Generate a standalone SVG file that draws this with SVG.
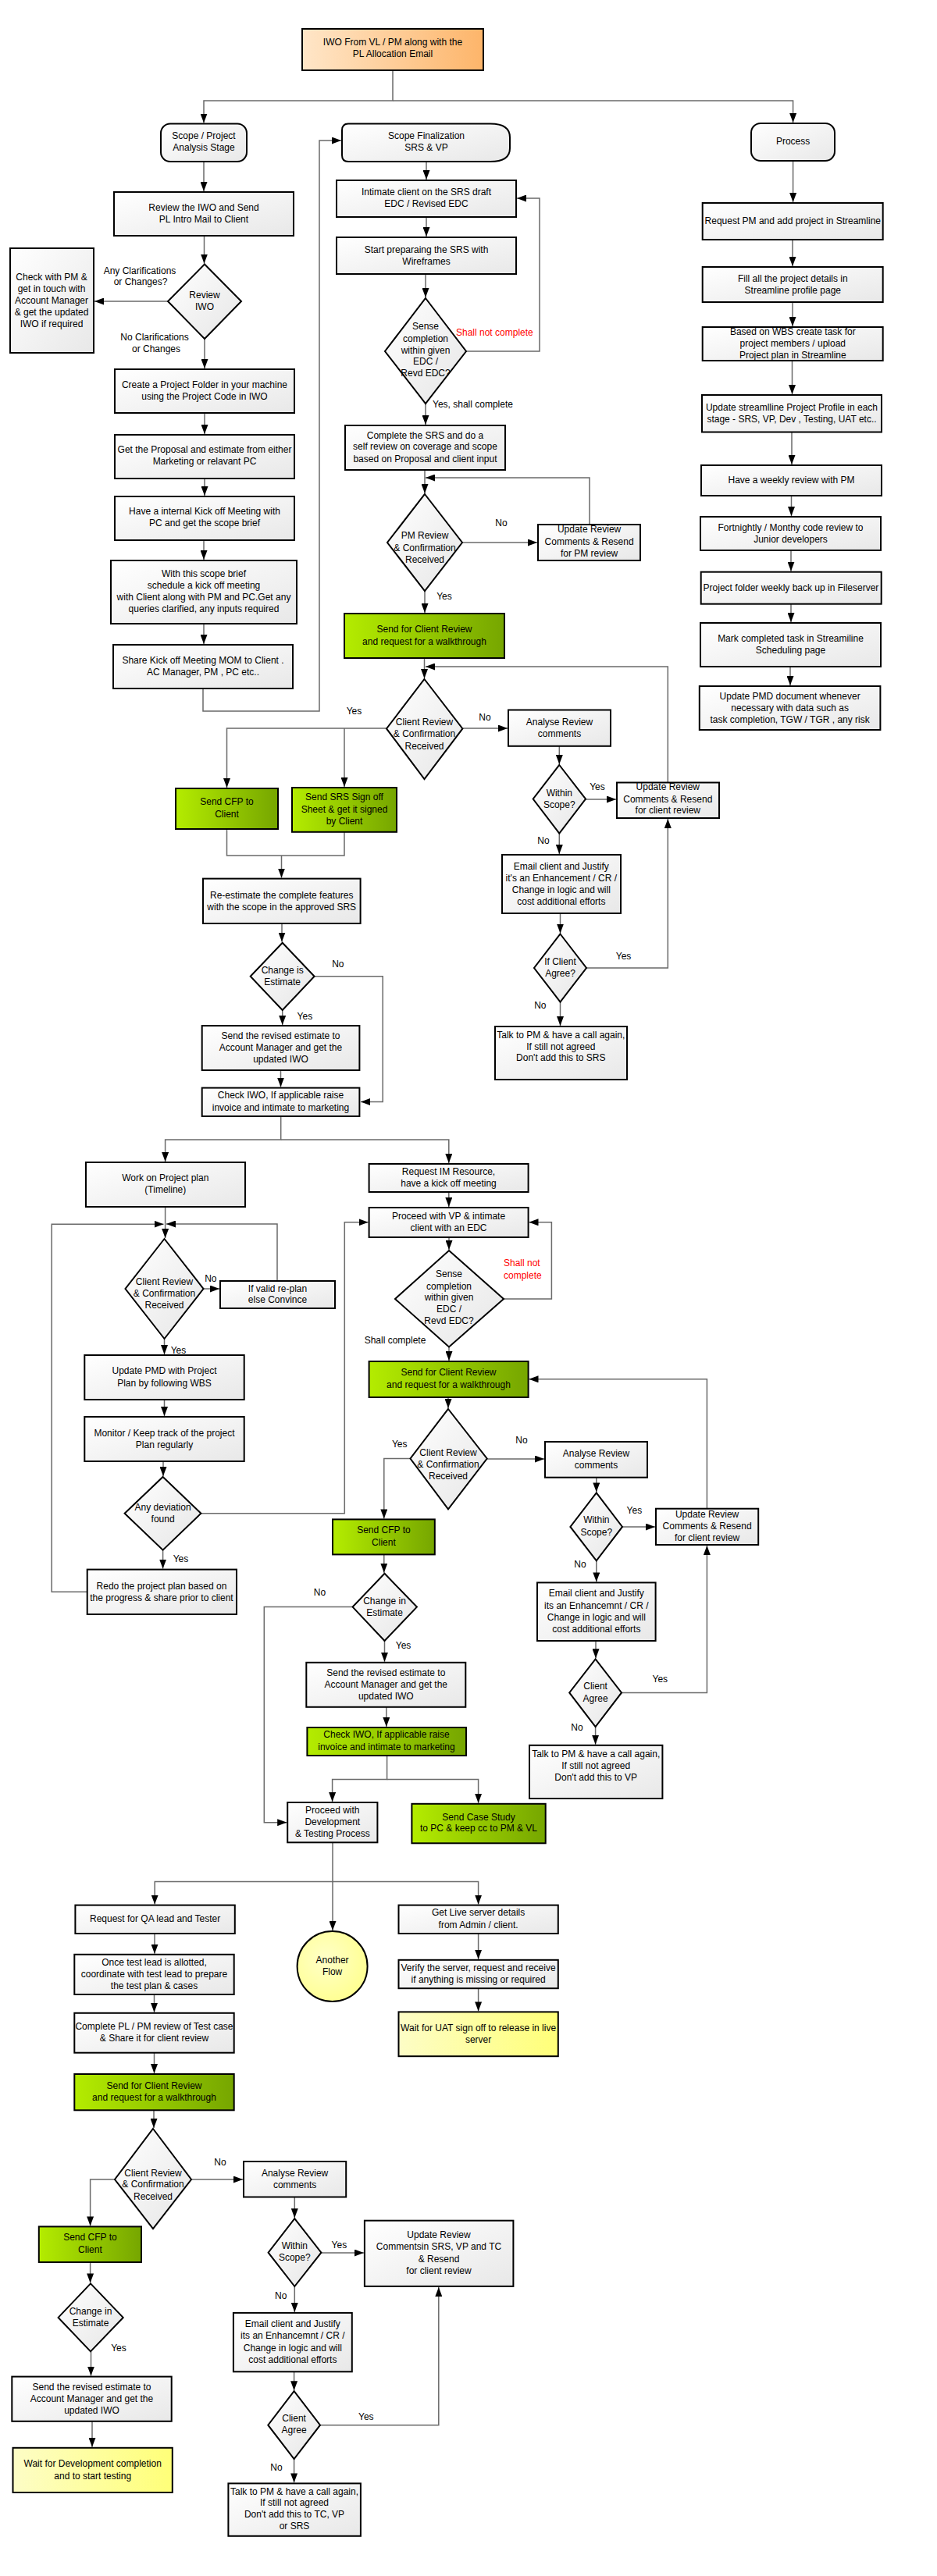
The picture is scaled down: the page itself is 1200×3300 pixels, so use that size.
<svg xmlns="http://www.w3.org/2000/svg" width="1200" height="3300" viewBox="0 0 1200 3300">
<defs>
<style>
text{font-family:"Liberation Sans",Arial,sans-serif;font-size:12px;fill:#000;text-anchor:middle}
.b{fill:url(#gg);stroke:#000;stroke-width:2}
.d{fill:url(#gd);stroke:#000;stroke-width:2}
.g{fill:url(#gr);stroke:#000;stroke-width:2}
.y{fill:url(#gy);stroke:#000;stroke-width:2}
.o{fill:url(#go);stroke:#000;stroke-width:2}
.c{fill:none;stroke:#6a6a6a;stroke-width:1.5}
.a{marker-end:url(#ar)}
.red{fill:#ff0000;text-anchor:start}
.st{text-anchor:start}
</style>
<linearGradient id="gg" x1="0" y1="0" x2="1" y2="1"><stop offset="0" stop-color="#ffffff"/><stop offset="1" stop-color="#e8e8e8"/></linearGradient>
<linearGradient id="gd" x1="0" y1="0" x2="1" y2="1"><stop offset="0" stop-color="#ffffff"/><stop offset="1" stop-color="#e6e6e6"/></linearGradient>
<linearGradient id="gr" x1="0" y1="0" x2="1" y2="0"><stop offset="0" stop-color="#b4ec00"/><stop offset="1" stop-color="#76a600"/></linearGradient>
<linearGradient id="gy" x1="0" y1="0" x2="1" y2="0"><stop offset="0" stop-color="#fdfdc6"/><stop offset="1" stop-color="#ffff78"/></linearGradient>
<linearGradient id="go" x1="0" y1="0" x2="1" y2="0"><stop offset="0" stop-color="#ffe6c8"/><stop offset="1" stop-color="#fdb56a"/></linearGradient>
<radialGradient id="gc" cx="0.4" cy="0.4" r="0.7"><stop offset="0" stop-color="#ffffc8"/><stop offset="1" stop-color="#ffff8c"/></radialGradient>
<marker id="ar" markerUnits="userSpaceOnUse" markerWidth="12" markerHeight="9" refX="12" refY="4.5" orient="auto"><path d="M0,0 L12,4.5 L0,9 z" fill="#000"/></marker>
</defs>
<rect width="1200" height="3300" fill="#fff"/>

<g id="connectors">
<path class="c a" d="M503,90 V129 H261 V157.5"/>
<path class="c a" d="M503,129 H1015.6 V157"/>
<path class="c a" d="M261,207 V245"/>
<path class="c a" d="M261.5,302 V337.5"/>
<path class="c a" d="M215,386 H121"/>
<path class="c a" d="M262,434 V472"/>
<path class="c a" d="M262,529 V556"/>
<path class="c a" d="M262,613 V635"/>
<path class="c a" d="M261,692 V717"/>
<path class="c a" d="M261,799 V825"/>
<path class="c a" d="M260,882 V911 H409 V180 H437"/>
<path class="c a" d="M546,207 V230"/>
<path class="c a" d="M546,278 V303"/>
<path class="c a" d="M545,351 V381"/>
<path class="c a" d="M597,450 H691 V254 H662"/>
<path class="c a" d="M545,517 V544"/>
<path class="c a" d="M544,602 V632"/>
<path class="c a" d="M592,695 H688"/>
<path class="c a" d="M755,672 V612 H545"/>
<path class="c a" d="M544,757 V785"/>
<path class="c a" d="M543.5,843 V869"/>
<path class="c a" d="M495,933 H290.5 V1009"/>
<path class="c a" d="M441,933 V1008"/>
<path class="c a" d="M592.4,933 H650"/>
<path class="c a" d="M716.3,956 V979"/>
<path class="c a" d="M750,1024 H789"/>
<path class="c a" d="M855.3,1002.5 V854 H545"/>
<path class="c a" d="M716.3,1067.5 V1094"/>
<path class="c a" d="M717.5,1170 V1195.5"/>
<path class="c a" d="M751,1240 H855.3 V1049"/>
<path class="c a" d="M717.5,1283.5 V1314"/>
<path class="c" d="M290.5,1062 V1096 H441 V1066"/>
<path class="c a" d="M360.5,1096 V1124.5"/>
<path class="c a" d="M361,1183 V1206.5"/>
<path class="c a" d="M402.6,1250.8 H490.2 V1411.5 H462"/>
<path class="c a" d="M361.7,1294 V1313"/>
<path class="c a" d="M359.5,1371 V1392.5"/>
<path class="c a" d="M359.7,1430 V1460 H211.6 V1488"/>
<path class="c a" d="M359.7,1460 H574.8 V1490"/>
<path class="c a" d="M211.6,1546 V1586"/>
<path class="c a" d="M260.5,1651 H281"/>
<path class="c a" d="M355,1641 V1568 H213"/>
<path class="c a" d="M210.5,1715 V1735"/>
<path class="c a" d="M210.5,1793 V1814"/>
<path class="c a" d="M209,1872 V1891"/>
<path class="c a" d="M257.4,1938.7 H441.3 V1565.8 H471.6"/>
<path class="c a" d="M208.6,1985.7 V2009.6"/>
<path class="c a" d="M111.7,2039.3 H66.2 V1568.2 H209.5"/>
<path class="c a" d="M574.8,1527 V1546"/>
<path class="c a" d="M575,1585 V1601"/>
<path class="c a" d="M645,1664 H706.4 V1565.8 H677.5"/>
<path class="c a" d="M575,1725.5 V1743"/>
<path class="c a" d="M574,1790 V1804"/>
<path class="c a" d="M525,1868.5 H491.8 V1945.4"/>
<path class="c a" d="M623,1869 H697"/>
<path class="c a" d="M763.8,1892.7 V1911.4"/>
<path class="c a" d="M797,1956 H839"/>
<path class="c a" d="M905.4,1932.7 V1766.8 H677.5"/>
<path class="c a" d="M763.8,1999.4 V2026.4"/>
<path class="c a" d="M763,2102 V2124.3"/>
<path class="c a" d="M796,2168.4 H905.4 V1980"/>
<path class="c a" d="M762.6,2212 V2234.8"/>
<path class="c a" d="M491.8,1991.3 V2014.8"/>
<path class="c a" d="M451.6,2058.6 H338.3 V2334.7 H367.2"/>
<path class="c a" d="M492.5,2102 V2128.8"/>
<path class="c a" d="M494.8,2186.7 V2212"/>
<path class="c a" d="M495.6,2249 V2279.6 H425.6 V2308"/>
<path class="c a" d="M495.6,2279.6 H612.6 V2309.8"/>
<path class="c a" d="M426,2360.3 V2410.5 H198.2 V2439.6"/>
<path class="c a" d="M426,2410.5 V2473"/>
<path class="c a" d="M426,2410.5 H612.6 V2439.6"/>
<path class="c a" d="M198,2477 V2502.8"/>
<path class="c a" d="M197.5,2555 V2577.8"/>
<path class="c a" d="M197.5,2629.7 V2656"/>
<path class="c a" d="M197,2703.3 V2726"/>
<path class="c a" d="M245,2792 H311"/>
<path class="c a" d="M377.3,2814.5 V2841.2"/>
<path class="c a" d="M411.4,2886 H465.9"/>
<path class="c a" d="M377.3,2929 V2961.9"/>
<path class="c a" d="M376.6,3038.3 V3062.2"/>
<path class="c a" d="M410,3106.7 H561.8 V2930"/>
<path class="c a" d="M376.6,3150 V3180.4"/>
<path class="c a" d="M147,2792 H115.6 V2851.4"/>
<path class="c a" d="M115.6,2898 V2924.4"/>
<path class="c a" d="M116.5,3012.4 V3043.6"/>
<path class="c a" d="M118,3101.8 V3134.8"/>
<path class="c a" d="M612.6,2477 V2509.8"/>
<path class="c a" d="M612.6,2547.2 V2576.4"/>
<path class="c a" d="M1015.6,206 V259"/>
<path class="c a" d="M1015,307 V341"/>
<path class="c a" d="M1015,387 V418"/>
<path class="c a" d="M1014.5,462 V505"/>
<path class="c a" d="M1014,553.5 V595"/>
<path class="c a" d="M1013.5,635 V661"/>
<path class="c a" d="M1013,705 V731.7"/>
<path class="c a" d="M1013,773.8 V797"/>
<path class="c a" d="M1012,854 V878"/>
</g>

<g id="labels">
<text x="179" y="350.5">Any Clarifications</text>
<text x="180" y="365">or Changes?</text>
<text x="198" y="435.5">No Clarifications</text>
<text x="200" y="450.5">or Changes</text>
<text class="red" x="584" y="429.5">Shall not complete</text>
<text class="st" x="554" y="521.7">Yes, shall complete</text>
<text x="642" y="673.6">No</text>
<text x="569" y="767.6">Yes</text>
<text x="453.5" y="914.6">Yes</text>
<text x="621" y="922.6">No</text>
<text x="765" y="1012.4">Yes</text>
<text x="696" y="1081">No</text>
<text x="798.6" y="1228.5">Yes</text>
<text x="691.8" y="1291.6">No</text>
<text x="432.8" y="1238.7">No</text>
<text x="390.4" y="1305.7">Yes</text>
<text x="269.8" y="1642.4">No</text>
<text x="228.5" y="1733.6">Yes</text>
<text x="231.5" y="2000.5">Yes</text>
<text class="red" x="645" y="1622.4">Shall not</text>
<text class="red" x="645" y="1637.5">complete</text>
<text x="506" y="1721.3">Shall complete</text>
<text x="511.7" y="1853.6">Yes</text>
<text x="668" y="1848.7">No</text>
<text x="812.4" y="1938.5">Yes</text>
<text x="743" y="2007.6">No</text>
<text x="845.3" y="2154.9">Yes</text>
<text x="738.9" y="2217.3">No</text>
<text x="409.5" y="2044.4">No</text>
<text x="516.6" y="2112.4">Yes</text>
<text x="282" y="2774.3">No</text>
<text x="434.4" y="2879.6">Yes</text>
<text x="359.7" y="2944.5">No</text>
<text x="468.8" y="3099.5">Yes</text>
<text x="354" y="3165.4">No</text>
<text x="152" y="3011.8">Yes</text>
</g>

<g id="n-iwo"><rect class="o" x="387" y="37" width="232" height="53"/><text x="503" y="58.4">IWO From VL / PM along with the</text><text x="503" y="73.4">PL Allocation Email</text></g>

<g id="n-scope-project"><rect class="b" x="206" y="158.5" width="110" height="48.5" rx="12"/><text x="261" y="178">Scope / Project</text><text x="261" y="193.4">Analysis Stage</text></g>
<g id="n-review-iwo-send"><rect class="b" x="146" y="246" width="230" height="56"/><text x="261" y="269.5">Review the IWO and Send</text><text x="261" y="284.6">PL Intro Mail to Client</text></g>
<g id="n-review-iwo"><polygon class="d" points="262,338.5 309,386 262,434 215,386"/><text x="262" y="381.8">Review</text><text x="262" y="396.5">IWO</text></g>
<g id="n-check-pm"><rect class="b" x="13" y="318" width="107" height="134"/><text x="66" y="358.6">Check with PM &amp;</text><text x="66" y="373.7">get in touch with</text><text x="66" y="388.8">Account Manager</text><text x="66" y="404">&amp; get the updated</text><text x="66" y="419">IWO if required</text></g>
<g id="n-create-folder"><rect class="b" x="147" y="473" width="230" height="56"/><text x="262" y="496.8">Create a Project Folder in your machine</text><text x="262" y="512">using the Project Code in IWO</text></g>
<g id="n-proposal"><rect class="b" x="147" y="557" width="230" height="56"/><text x="262" y="580.3">Get the Proposal and estimate from either</text><text x="262" y="595.4">Marketing or relavant PC</text></g>
<g id="n-internal-kickoff"><rect class="b" x="147" y="636" width="230" height="56"/><text x="262" y="659">Have a internal Kick off Meeting with</text><text x="262" y="674.3">PC and get the scope brief</text></g>
<g id="n-schedule-kickoff"><rect class="b" x="142" y="718" width="238" height="81"/><text x="261" y="739">With this scope brief</text><text x="261" y="754">schedule a kick off meeting</text><text x="261" y="769.4">with Client along with PM and PC.Get any</text><text x="261" y="784.4">queries clarified, any inputs required</text></g>
<g id="n-share-mom"><rect class="b" x="145" y="826" width="230" height="56"/><text x="260" y="849.7">Share Kick off Meeting MOM to Client .</text><text x="260" y="864.8">AC Manager, PM , PC etc..</text></g>

<g id="n-scope-final"><path class="b" d="M446,158.5 H628 C646,158.5 653,165 653,176 V190 C653,201 646,207 628,207 H446 Q438,207 438,199 V167 Q438,158.5 446,158.5 Z"/><text x="546" y="178">Scope Finalization</text><text x="546" y="193.4">SRS &amp; VP</text></g>
<g id="n-intimate"><rect class="b" x="431" y="231" width="230" height="47"/><text x="546" y="249.5">Intimate client on the SRS draft</text><text x="546" y="264.6">EDC / Revised EDC</text></g>
<g id="n-start-srs"><rect class="b" x="431" y="304" width="230" height="47"/><text x="546" y="323.5">Start preparaing the SRS with</text><text x="546" y="338.6">Wireframes</text></g>
<g id="n-sense1"><polygon class="d" points="545,382 597,450 545,517 493,450"/><text x="545" y="422.4">Sense</text><text x="545" y="437.5">completion</text><text x="545" y="452.6">within given</text><text x="545" y="467.3">EDC /</text><text x="545" y="482.4">Revd EDC?</text></g>
<g id="n-complete-srs"><rect class="b" x="442" y="545" width="205" height="57"/><text x="544.5" y="561.7">Complete the SRS and do a</text><text x="544.5" y="576.4">self review on coverage and scope</text><text x="544.5" y="591.5">based on Proposal and client input</text></g>
<g id="n-pm-review"><polygon class="d" points="544,633 592,695 544,757 496,695"/><text x="544" y="690.4">PM Review</text><text x="544" y="705.5">&amp; Confirmation</text><text x="544" y="720.6">Received</text></g>
<g id="n-update-pm"><rect class="b" x="689" y="672" width="131" height="46"/><text x="754.6" y="682.4">Update Review</text><text x="754.6" y="697.5">Comments &amp; Resend</text><text x="754.6" y="712.5">for PM review</text></g>
<g id="n-send-review1"><rect class="g" x="441" y="786" width="205" height="57"/><text x="543.5" y="810.4">Send for Client Review</text><text x="543.5" y="825.5">and request for a walkthrough</text></g>
<g id="n-client-review1"><polygon class="d" points="543.5,870 592.4,933.4 543.5,998 495,933.4"/><text x="543.5" y="929.3">Client Review</text><text x="543.5" y="944.4">&amp; Confirmation</text><text x="543.5" y="959.5">Received</text></g>
<g id="n-analyse1"><rect class="b" x="651" y="909.5" width="131" height="46.3"/><text x="716.5" y="928.6">Analyse Review</text><text x="716.5" y="943.7">comments</text></g>
<g id="n-within1"><polygon class="d" points="716.3,980 750,1023.5 716.3,1067.5 682.7,1023.5"/><text x="716.3" y="1019.5">Within</text><text x="716.3" y="1034.5">Scope?</text></g>
<g id="n-update-client1"><rect class="b" x="790" y="1002.5" width="131" height="45.5"/><text x="855.3" y="1012.4">Update Review</text><text x="855.3" y="1027.5">Comments &amp; Resend</text><text x="855.3" y="1042.3">for client review</text></g>
<g id="n-email1"><rect class="b" x="643" y="1095" width="152" height="75"/><text x="718.8" y="1113.8">Email client and Justify</text><text x="718.8" y="1128.6">it's an Enhancement / CR /</text><text x="718.8" y="1143.6">Change in logic and will</text><text x="718.8" y="1158.7">cost additional efforts</text></g>
<g id="n-agree1"><polygon class="d" points="717.5,1196.5 751,1240 717.5,1283.5 684,1240"/><text x="717.5" y="1235.5">If Client</text><text x="717.5" y="1250.6">Agree?</text></g>
<g id="n-talk1"><rect class="b" x="634" y="1315" width="169" height="68"/><text x="718.3" y="1329.5">Talk to PM &amp; have a call again,</text><text x="718.3" y="1344.6">If still not agreed</text><text x="718.3" y="1359.3">Don't add this to SRS</text></g>
<g id="n-cfp1"><rect class="g" x="225" y="1010" width="131" height="52"/><text x="290.5" y="1031.4">Send CFP to</text><text x="290.5" y="1046.5">Client</text></g>
<g id="n-srs-signoff"><rect class="g" x="374" y="1009" width="134" height="56.8"/><text x="441" y="1025.4">Send SRS Sign off</text><text x="441" y="1040.5">Sheet &amp; get it signed</text><text x="441" y="1055.6">by Client</text></g>
<g id="n-reestimate"><rect class="b" x="260" y="1125.6" width="201.6" height="57.4"/><text x="360.7" y="1150.6">Re-estimate the complete features</text><text x="360.7" y="1165.7">with the scope in the approved SRS</text></g>
<g id="n-change-is"><polygon class="d" points="361.7,1207.7 402.6,1250.8 361.7,1294 320.7,1250.8"/><text x="361.7" y="1246.8">Change is</text><text x="361.7" y="1261.8">Estimate</text></g>
<g id="n-revised1"><rect class="b" x="258.7" y="1314" width="201.7" height="57"/><text x="359.5" y="1330.6">Send the revised estimate to</text><text x="359.5" y="1345.7">Account Manager and get the</text><text x="359.5" y="1360.7">updated IWO</text></g>
<g id="n-checkiwo1"><rect class="b" x="258.7" y="1393.6" width="201.7" height="36.4"/><text x="359.5" y="1407.4">Check IWO, If applicable raise</text><text x="359.5" y="1422.5">invoice and intimate to marketing</text></g>

<g id="n-project-plan"><rect class="b" x="110" y="1489" width="204" height="57"/><text x="211.8" y="1513.3">Work on Project plan</text><text x="211.8" y="1528.4">(Timeline)</text></g>
<g id="n-client-review-pp"><polygon class="d" points="210.5,1587 260.5,1651 210.5,1715 160.5,1651"/><text x="210.5" y="1646.3">Client Review</text><text x="210.5" y="1661.4">&amp; Confirmation</text><text x="210.5" y="1676.4">Received</text></g>
<g id="n-replan"><rect class="b" x="282" y="1641" width="147" height="35"/><text x="355.5" y="1654.5">If valid re-plan</text><text x="355.5" y="1668.5">else Convince</text></g>
<g id="n-update-pmd-plan"><rect class="b" x="108.3" y="1736" width="204.4" height="57"/><text x="210.5" y="1760.3">Update PMD with Project</text><text x="210.5" y="1775.7">Plan by following WBS</text></g>
<g id="n-monitor"><rect class="b" x="108.3" y="1815" width="204.4" height="57"/><text x="210.5" y="1839.5">Monitor / Keep track of the project</text><text x="210.5" y="1854.6">Plan regularly</text></g>
<g id="n-deviation"><polygon class="d" points="208.6,1892 257.4,1938.7 208.6,1985.7 159.6,1938.7"/><text x="208.6" y="1934.6">Any deviation</text><text x="208.6" y="1949.7">found</text></g>
<g id="n-redo"><rect class="b" x="111.7" y="2010.6" width="191.3" height="57.4"/><text x="207" y="2035.6">Redo the project plan based on</text><text x="207" y="2050.7">the progress &amp; share prior to client</text></g>

<g id="n-request-im"><rect class="b" x="472.6" y="1491" width="204" height="36"/><text x="574.5" y="1505">Request IM Resource,</text><text x="574.5" y="1519.6">have a kick off meeting</text></g>
<g id="n-proceed-vp"><rect class="b" x="472.6" y="1547" width="204" height="38"/><text x="574.5" y="1561.7">Proceed with VP &amp; intimate</text><text x="574.5" y="1576.5">client with an EDC</text></g>
<g id="n-sense2"><polygon class="d" points="575,1602 645,1664 575,1725.5 506,1664"/><text x="575" y="1636.4">Sense</text><text x="575" y="1651.5">completion</text><text x="575" y="1666.3">within given</text><text x="575" y="1681.4">EDC /</text><text x="575" y="1696.4">Revd EDC?</text></g>
<g id="n-send-review2"><rect class="g" x="472.6" y="1744" width="204" height="46"/><text x="574.5" y="1762.4">Send for Client Review</text><text x="574.5" y="1777.5">and request for a walkthrough</text></g>
<g id="n-client-review2"><polygon class="d" points="574,1805 623.7,1868.5 574,1933.4 525.5,1868.5"/><text x="574" y="1864.5">Client Review</text><text x="574" y="1879.5">&amp; Confirmation</text><text x="574" y="1894.6">Received</text></g>
<g id="n-analyse2"><rect class="b" x="698" y="1847" width="131" height="45.7"/><text x="763.5" y="1865.5">Analyse Review</text><text x="763.5" y="1880.6">comments</text></g>
<g id="n-within2"><polygon class="d" points="763.8,1912.4 797,1955.9 763.8,1999.4 730.4,1955.9"/><text x="763.8" y="1951.4">Within</text><text x="763.8" y="1966.5">Scope?</text></g>
<g id="n-update-client2"><rect class="b" x="840" y="1932.7" width="131.2" height="46.3"/><text x="905.6" y="1943.7">Update Review</text><text x="905.6" y="1958.5">Comments &amp; Resend</text><text x="905.6" y="1973.5">for client review</text></g>
<g id="n-email2"><rect class="b" x="688" y="2027.4" width="151.6" height="74.6"/><text x="763.8" y="2045.4">Email client and Justify</text><text x="763.8" y="2060.5">its an Enhancemnt / CR /</text><text x="763.8" y="2075.6">Change in logic and will</text><text x="763.8" y="2090.7">cost additional efforts</text></g>
<g id="n-agree2"><polygon class="d" points="762.6,2125.3 796,2168.4 762.6,2212 729.2,2168.4"/><text x="762.6" y="2164.3">Client</text><text x="762.6" y="2179.8">Agree</text></g>
<g id="n-talk2"><rect class="b" x="678" y="2235.8" width="170.4" height="68.2"/><text x="763.2" y="2250.6">Talk to PM &amp; have a call again,</text><text x="763.2" y="2265.7">If still not agreed</text><text x="763.2" y="2280.5">Don't add this to VP</text></g>
<g id="n-cfp2"><rect class="g" x="426" y="1946.4" width="130.8" height="45"/><text x="491.4" y="1964.4">Send CFP to</text><text x="491.4" y="1979.5">Client</text></g>
<g id="n-change-in2"><polygon class="d" points="492.5,2015.8 533.9,2058.6 492.5,2102 451.6,2058.6"/><text x="492.5" y="2055">Change in</text><text x="492.5" y="2070">Estimate</text></g>
<g id="n-revised2"><rect class="b" x="392.3" y="2129.8" width="204" height="57"/><text x="494.3" y="2146.8">Send the revised estimate to</text><text x="494.3" y="2161.9">Account Manager and get the</text><text x="494.3" y="2176.6">updated IWO</text></g>
<g id="n-checkiwo2"><rect class="g" x="393.4" y="2213" width="203.6" height="36"/><text x="495" y="2226.4">Check IWO, If applicable raise</text><text x="495" y="2241.5">invoice and intimate to marketing</text></g>
<g id="n-proceed-dev"><rect class="b" x="368.2" y="2309" width="115.2" height="51.3"/><text x="425.8" y="2322.9">Proceed with</text><text x="425.8" y="2338">Development</text><text x="425.8" y="2353">&amp; Testing Process</text></g>
<g id="n-case-study"><rect class="g" x="527.4" y="2310.8" width="171.3" height="50.5"/><text x="613" y="2331.7">Send Case Study</text><text x="613" y="2346.4">to PC &amp; keep cc to PM &amp; VL</text></g>
<g id="n-another-flow"><circle cx="425.6" cy="2519" r="45" fill="url(#gc)" stroke="#000" stroke-width="2"/><text x="425.6" y="2514.8">Another</text><text x="425.6" y="2529.8">Flow</text></g>

<g id="n-request-qa"><rect class="b" x="96.4" y="2440.6" width="204.4" height="36.4"/><text x="198.6" y="2461.5">Request for QA lead and Tester</text></g>
<g id="n-test-lead"><rect class="b" x="95.3" y="2503.8" width="204.4" height="51.2"/><text x="197.5" y="2517.6">Once test lead is allotted,</text><text x="197.5" y="2532.7">coordinate with test lead to prepare</text><text x="197.5" y="2547.7">the test plan &amp; cases</text></g>
<g id="n-pl-review"><rect class="b" x="95.3" y="2578.8" width="204.4" height="50.9"/><text x="197.5" y="2599.6">Complete PL / PM review of Test case</text><text x="197.5" y="2614.7">&amp; Share it for client review</text></g>
<g id="n-send-review3"><rect class="g" x="95.3" y="2657" width="204.4" height="46.3"/><text x="197.5" y="2675.8">Send for Client Review</text><text x="197.5" y="2690.8">and request for a walkthrough</text></g>
<g id="n-client-review3"><polygon class="d" points="196,2727 245,2792 196,2855.2 147,2792"/><text x="196" y="2787.7">Client Review</text><text x="196" y="2802.4">&amp; Confirmation</text><text x="196" y="2817.5">Received</text></g>
<g id="n-analyse3"><rect class="b" x="312" y="2769" width="131.2" height="45.5"/><text x="377.6" y="2787.7">Analyse Review</text><text x="377.6" y="2802.8">comments</text></g>
<g id="n-within3"><polygon class="d" points="377.3,2842.2 411.4,2885.7 377.3,2929 343.6,2885.7"/><text x="377.3" y="2881.3">Within</text><text x="377.3" y="2896.4">Scope?</text></g>
<g id="n-update-client3"><rect class="b" x="466.9" y="2844.7" width="190.5" height="84.2"/><text x="562" y="2867.3">Update Review</text><text x="562" y="2882.4">Commentsin SRS, VP and TC</text><text x="562" y="2897.5">&amp; Resend</text><text x="562" y="2912.5">for client review</text></g>
<g id="n-email3"><rect class="b" x="298.9" y="2962.9" width="151.9" height="75.4"/><text x="374.8" y="2981.3">Email client and Justify</text><text x="374.8" y="2996.4">its an Enhancemnt / CR /</text><text x="374.8" y="3011.5">Change in logic and will</text><text x="374.8" y="3026.5">cost additional efforts</text></g>
<g id="n-agree3"><polygon class="d" points="376.6,3063.2 410,3106.7 376.6,3150 343.3,3106.7"/><text x="376.6" y="3102.3">Client</text><text x="376.6" y="3117.4">Agree</text></g>
<g id="n-talk3"><rect class="b" x="292.4" y="3181.4" width="169.5" height="67.4"/><text x="377" y="3195.6">Talk to PM &amp; have a call again,</text><text x="377" y="3210.3">If still not agreed</text><text x="377" y="3225">Don't add this to TC, VP</text><text x="377" y="3240.1">or SRS</text></g>
<g id="n-cfp3"><rect class="g" x="49.8" y="2852.4" width="131.2" height="45.6"/><text x="115.4" y="2870">Send CFP to</text><text x="115.4" y="2885.5">Client</text></g>
<g id="n-change-in3"><polygon class="d" points="116,2925.4 157.7,2968.9 116,3012.4 74.6,2968.9"/><text x="116" y="2964.8">Change in</text><text x="116" y="2979.9">Estimate</text></g>
<g id="n-revised3"><rect class="b" x="15.3" y="3044.6" width="204.4" height="57.2"/><text x="117.5" y="3062">Send the revised estimate to</text><text x="117.5" y="3077">Account Manager and get the</text><text x="117.5" y="3091.8">updated IWO</text></g>
<g id="n-wait-dev"><rect class="y" x="16.5" y="3135.8" width="204.3" height="57.2"/><text x="118.7" y="3160.2">Wait for Development completion</text><text x="118.7" y="3175.6">and to start testing</text></g>

<g id="n-live-server"><rect class="b" x="510.5" y="2440.6" width="204.3" height="36.4"/><text x="612.6" y="2454.4">Get Live server details</text><text x="612.6" y="2469.5">from Admin / client.</text></g>
<g id="n-verify"><rect class="b" x="510.5" y="2510.8" width="204.3" height="36.4"/><text x="612.6" y="2524.6">Verify the server, request and receive</text><text x="612.6" y="2539.7">if anything is missing or required</text></g>
<g id="n-wait-uat"><rect class="y" x="510.5" y="2577.4" width="204.3" height="56.8"/><text x="612.6" y="2601.8">Wait for UAT sign off to release in live</text><text x="612.6" y="2617.2">server</text></g>

<g id="n-process"><rect class="b" x="962" y="158" width="107" height="48" rx="12"/><text x="1015.6" y="185">Process</text></g>
<g id="n-request-pm"><rect class="b" x="899.7" y="260" width="231" height="47"/><text x="1015.3" y="286.7">Request PM and add project in Streamline</text></g>
<g id="n-fill-details"><rect class="b" x="899.7" y="342" width="231" height="45"/><text x="1015.3" y="360.7">Fill all the project details in</text><text x="1015.3" y="375.8">Streamline profile page</text></g>
<g id="n-wbs"><rect class="b" x="899.7" y="419" width="231" height="43"/><text x="1015.3" y="428.8">Based on WBS create task for</text><text x="1015.3" y="443.8">project members / upload</text><text x="1015.3" y="459">Project plan in Streamline</text></g>
<g id="n-update-profile"><rect class="b" x="899" y="506" width="230" height="47.5"/><text x="1014" y="526">Update streamlline Project Profile in each</text><text x="1014" y="541">stage - SRS, VP, Dev , Testing, UAT etc..</text></g>
<g id="n-weekly"><rect class="b" x="898" y="596" width="231" height="39"/><text x="1013.5" y="619">Have a weekly review with PM</text></g>
<g id="n-fortnightly"><rect class="b" x="897" y="662" width="231" height="43"/><text x="1012.5" y="679.6">Fortnightly / Monthy code review to</text><text x="1012.5" y="694.6">Junior developers</text></g>
<g id="n-backup"><rect class="b" x="897.7" y="732.7" width="231" height="41"/><text x="1013" y="756.7">Project folder weekly back up in Fileserver</text></g>
<g id="n-mark"><rect class="b" x="897" y="798" width="231" height="56"/><text x="1012.5" y="821.6">Mark completed task in Streamiline</text><text x="1012.5" y="836.7">Scheduling page</text></g>
<g id="n-pmd-doc"><rect class="b" x="895.8" y="879" width="231.6" height="56"/><text x="1011.6" y="895.6">Update PMD document whenever</text><text x="1011.6" y="910.7">necessary with data such as</text><text x="1011.6" y="925.8">task completion, TGW / TGR , any risk</text></g>
</svg>
